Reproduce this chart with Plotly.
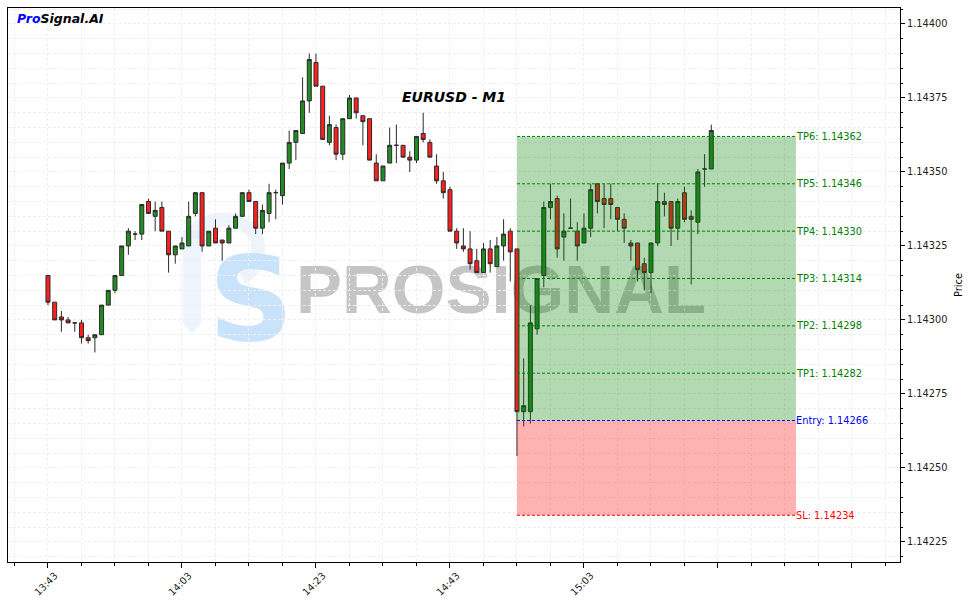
import pandas as pd
import plotly.graph_objects as go

# ---------------- data ----------------
chart_title = "EURUSD - M1"
start_time = "2025-06-10 13:43"

opens = [1.14315, 1.14306, 1.14301, 1.14300, 1.14299, 1.14299, 1.14294, 1.14294, 1.14295, 1.14305,
         1.14310, 1.14315, 1.14325, 1.14329, 1.14329, 1.14340, 1.14335, 1.14338, 1.14330, 1.14322,
         1.14324, 1.14325, 1.14336, 1.14343, 1.14325, 1.14331, 1.14327, 1.14326, 1.14331, 1.14335,
         1.14343, 1.14340, 1.14331, 1.14336, 1.14343, 1.14342, 1.14353, 1.14360, 1.14363, 1.14374,
         1.14387, 1.14379, 1.14360, 1.14365, 1.14356, 1.14368, 1.14375, 1.14369, 1.14368, 1.14353,
         1.14347, 1.14353, 1.14359, 1.14359, 1.14355, 1.14354, 1.14363, 1.14360, 1.14352, 1.14347,
         1.14344, 1.14330, 1.14325, 1.14324, 1.14320, 1.14316, 1.14324, 1.14318, 1.14325, 1.14330,
         1.14324, 1.14269, 1.14269, 1.14297, 1.14315, 1.14338, 1.14341, 1.14328, 1.14331, 1.14330,
         1.14326, 1.14331, 1.14346, 1.14341, 1.14341, 1.14338, 1.14334, 1.14326, 1.14326, 1.14319,
         1.14316, 1.14326, 1.14340, 1.14340, 1.14331, 1.14343, 1.14335, 1.14333, 1.14351, 1.14351]
highs = [1.14315, 1.14306, 1.14303, 1.14301, 1.14299, 1.14300, 1.14295, 1.14295, 1.14305, 1.14310,
         1.14315, 1.14325, 1.14331, 1.14330, 1.14339, 1.14341, 1.14340, 1.14340, 1.14330, 1.14325,
         1.14328, 1.14340, 1.14343, 1.14343, 1.14330, 1.14334, 1.14327, 1.14332, 1.14336, 1.14343,
         1.14344, 1.14340, 1.14339, 1.14346, 1.14344, 1.14353, 1.14364, 1.14364, 1.14382, 1.14390,
         1.14390, 1.14379, 1.14369, 1.14366, 1.14368, 1.14376, 1.14375, 1.14369, 1.14368, 1.14356,
         1.14352, 1.14365, 1.14366, 1.14359, 1.14357, 1.14362, 1.14370, 1.14361, 1.14356, 1.14350,
         1.14345, 1.14331, 1.14331, 1.14330, 1.14324, 1.14326, 1.14327, 1.14328, 1.14334, 1.14331,
         1.14324, 1.14287, 1.14305, 1.14314, 1.14340, 1.14346, 1.14342, 1.14336, 1.14341, 1.14333,
         1.14336, 1.14346, 1.14346, 1.14346, 1.14346, 1.14338, 1.14336, 1.14327, 1.14326, 1.14321,
         1.14326, 1.14346, 1.14343, 1.14340, 1.14341, 1.14345, 1.14337, 1.14351, 1.14356, 1.14366]
lows = [1.14305, 1.14300, 1.14296, 1.14299, 1.14296, 1.14292, 1.14292, 1.14289, 1.14295, 1.14305,
        1.14309, 1.14315, 1.14322, 1.14327, 1.14327, 1.14336, 1.14330, 1.14330, 1.14316, 1.14319,
        1.14324, 1.14325, 1.14335, 1.14323, 1.14325, 1.14326, 1.14320, 1.14326, 1.14331, 1.14335,
        1.14340, 1.14329, 1.14329, 1.14333, 1.14334, 1.14339, 1.14351, 1.14354, 1.14363, 1.14370,
        1.14379, 1.14361, 1.14359, 1.14354, 1.14354, 1.14368, 1.14368, 1.14359, 1.14354, 1.14347,
        1.14347, 1.14353, 1.14353, 1.14355, 1.14350, 1.14353, 1.14360, 1.14355, 1.14346, 1.14341,
        1.14330, 1.14324, 1.14323, 1.14317, 1.14316, 1.14316, 1.14316, 1.14318, 1.14320, 1.14313,
        1.14254, 1.14264, 1.14265, 1.14295, 1.14311, 1.14334, 1.14321, 1.14320, 1.14331, 1.14320,
        1.14326, 1.14328, 1.14336, 1.14331, 1.14334, 1.14330, 1.14326, 1.14320, 1.14313, 1.14310,
        1.14309, 1.14325, 1.14335, 1.14325, 1.14327, 1.14333, 1.14312, 1.14329, 1.14345, 1.14351]
closes = [1.14306, 1.14300, 1.14300, 1.14299, 1.14299, 1.14294, 1.14293, 1.14295, 1.14305, 1.14310,
          1.14315, 1.14325, 1.14330, 1.14329, 1.14339, 1.14336, 1.14337, 1.14330, 1.14322, 1.14325,
          1.14326, 1.14335, 1.14343, 1.14325, 1.14330, 1.14326, 1.14326, 1.14331, 1.14335, 1.14343,
          1.14340, 1.14331, 1.14337, 1.14343, 1.14343, 1.14353, 1.14360, 1.14364, 1.14374, 1.14388,
          1.14379, 1.14361, 1.14366, 1.14356, 1.14368, 1.14375, 1.14370, 1.14367, 1.14354, 1.14347,
          1.14352, 1.14359, 1.14359, 1.14355, 1.14354, 1.14362, 1.14361, 1.14355, 1.14347, 1.14343,
          1.14330, 1.14326, 1.14324, 1.14319, 1.14316, 1.14324, 1.14319, 1.14325, 1.14329, 1.14323,
          1.14269, 1.14271, 1.14299, 1.14314, 1.14338, 1.14340, 1.14324, 1.14330, 1.14331, 1.14325,
          1.14331, 1.14344, 1.14340, 1.14339, 1.14339, 1.14334, 1.14331, 1.14325, 1.14317, 1.14316,
          1.14326, 1.14340, 1.14339, 1.14331, 1.14340, 1.14334, 1.14334, 1.14350, 1.14351, 1.14364]

entry_price = 1.14266
sl_price = 1.14234
tp_names = ["TP1", "TP2", "TP3", "TP4", "TP5", "TP6"]
tp_prices = [1.14282, 1.14298, 1.14314, 1.14330, 1.14346, 1.14362]
entry_candle = 70                      # index of the entry candle
zone_end_time = "2025-06-10 15:34:38"

x_tick_times = ["2025-06-10 13:43", "2025-06-10 14:03", "2025-06-10 14:23", "2025-06-10 14:43",
                "2025-06-10 15:03", "2025-06-10 15:23", "2025-06-10 15:43"]
x_tick_labels = ["13:43", "14:03", "14:23", "14:43", "15:03", "", ""]
x_range = ["2025-06-10 13:37:02", "2025-06-10 15:50:10"]
y_range = [1.142182, 1.144054]

times = pd.date_range(start_time, periods=len(opens), freq="1min")
entry_time = times[entry_candle]

# ---------------- layout helpers (decoration only) ----------------
W, H = 969, 603
L, R, T, B = 8, 900, 8, 562


def px(x):
    return (x - L) / (R - L)


def py(y):
    return (B - y) / (B - T)


FONT = "DejaVu Sans"
GRID = "#efefef"

fig = go.Figure()
fig.add_trace(go.Candlestick(
    x=times, open=opens, high=highs, low=lows, close=closes,
    increasing=dict(fillcolor="#228B22", line=dict(color="#2b2b2b", width=1)),
    decreasing=dict(fillcolor="#ff1f1f", line=dict(color="#2b2b2b", width=1)),
    whiskerwidth=0, showlegend=False, hoverinfo="skip",
))

shapes = []
# watermark (below traces, above grid)
bar_path = "M {a},{b} L {c},{b} L {c},{d} L {e},{f} L {a},{d} Z".format(
    a=px(183), b=py(230), c=px(201), d=py(323), e=px(192), f=py(334))
shapes.append(dict(type="path", xref="paper", yref="paper", path=bar_path,
                   fillcolor="rgba(225,237,250,0.6)", line=dict(width=0), layer="between"))
arc_path = "M {x0},{y0} C {x1},{y1} {x2},{y2} {x3},{y3} C {x4},{y4} {x5},{y5} {x6},{y6}".format(
    x0=px(192), y0=py(238), x1=px(198), y1=py(212), x2=px(258), y2=py(212), x3=px(258), y3=py(248),
    x4=px(258), y4=py(264), x5=px(250), y5=py(274), x6=px(242), y6=py(278))
shapes.append(dict(type="path", xref="paper", yref="paper", path=arc_path,
                   line=dict(width=14, color="rgba(225,237,250,0.6)"), layer="between"))
shapes.append(dict(type="rect", xref="paper", yref="paper", x0=px(206), x1=px(296),
                   y0=py(341), y1=py(241), line=dict(width=0), layer="between",
                   label=dict(text="S", textposition="middle center",
                              font=dict(family="DejaVu Sans", size=118, color="#c9e4fa", weight="bold"))))
shapes.append(dict(type="rect", xref="paper", yref="paper", x0=px(290), x1=px(712),
                   y0=py(315), y1=py(249), line=dict(width=0), layer="between",
                   label=dict(text="PROSIGNAL", textposition="middle center",
                              font=dict(family="Liberation Sans", size=69, color="#c5c5c5", weight="bold"))))

# trade zones
shapes.append(dict(type="rect", xref="x", yref="y", x0=entry_time, x1=zone_end_time,
                   y0=entry_price, y1=max(tp_prices), fillcolor="rgba(0,128,0,0.3)",
                   line=dict(width=0), layer="above"))
shapes.append(dict(type="rect", xref="x", yref="y", x0=entry_time, x1=zone_end_time,
                   y0=sl_price, y1=entry_price, fillcolor="rgba(255,0,0,0.3)",
                   line=dict(width=0), layer="above"))

annotations = []
levels = [(n, p, "green") for n, p in zip(tp_names, tp_prices)]
levels += [("Entry", entry_price, "blue"), ("SL", sl_price, "red")]
for name, price, col in levels:
    shapes.append(dict(type="line", xref="x", yref="y", x0=entry_time, x1=zone_end_time,
                       y0=price, y1=price, line=dict(color=col, width=1, dash="3px,2px"),
                       layer="above"))
    annotations.append(dict(x=zone_end_time, y=price, xref="x", yref="y",
                            text=f"{name}: {price:.5f}", showarrow=False,
                            xanchor="left", yanchor="middle", xshift=-2,
                            font=dict(family=FONT, size=9.8, color=col)))

annotations.append(dict(x=0.5, y=py(97), xref="paper", yref="paper", text=chart_title,
                        showarrow=False, xanchor="center", yanchor="middle",
                        font=dict(family=FONT, size=14, color="black", weight="bold", style="italic")))
annotations.append(dict(x=px(15), y=py(19), xref="paper", yref="paper",
                        text="<span style='color:blue'>Pro</span>Signal.AI",
                        showarrow=False, xanchor="left", yanchor="middle",
                        font=dict(family=FONT, size=12.5, color="black", weight="bold", style="italic")))

fig.update_layout(
    width=W, height=H,
    margin=dict(l=L, r=W - R, t=T, b=H - B, autoexpand=False),
    paper_bgcolor="white", plot_bgcolor="white",
    shapes=shapes, annotations=annotations, showlegend=False,
    boxgap=0.15,
    font=dict(family=FONT, size=9.8, color="black"),
)
fig.update_xaxes(
    type="date", range=x_range, tickvals=x_tick_times, ticktext=x_tick_labels,
    tickangle=-45, ticks="outside", ticklen=5, tickcolor="black",
    ticklabelshift=7, ticklabelstandoff=-2,
    tickfont=dict(family=FONT, size=9.8, color="#222"),
    showline=True, mirror=True, linecolor="black", linewidth=1,
    showgrid=True, gridcolor=GRID, griddash="3px,2px", gridwidth=1,
    minor=dict(dtick=5 * 60 * 1000, tick0=start_time, ticks="outside", ticklen=3,
               tickcolor="black", showgrid=True, gridcolor=GRID, griddash="3px,2px"),
    rangeslider=dict(visible=False), zeroline=False, automargin=False,
)
fig.update_yaxes(
    side="right", range=y_range, tick0=1.14225, dtick=0.00025, tickformat=".5f",
    ticks="outside", ticklen=4, tickcolor="black",
    tickfont=dict(family=FONT, size=9.8, color="#222"),
    showline=True, mirror=True, linecolor="black", linewidth=1,
    showgrid=True, gridcolor=GRID, griddash="3px,2px", gridwidth=1,
    minor=dict(dtick=0.00005, ticks="outside", ticklen=2, tickcolor="black",
               showgrid=True, gridcolor=GRID, griddash="3px,2px"),
    title=dict(text="Price", font=dict(family=FONT, size=9.8, color="black"), standoff=8),
    zeroline=False, automargin=False,
)

fig.write_html("out.html")
